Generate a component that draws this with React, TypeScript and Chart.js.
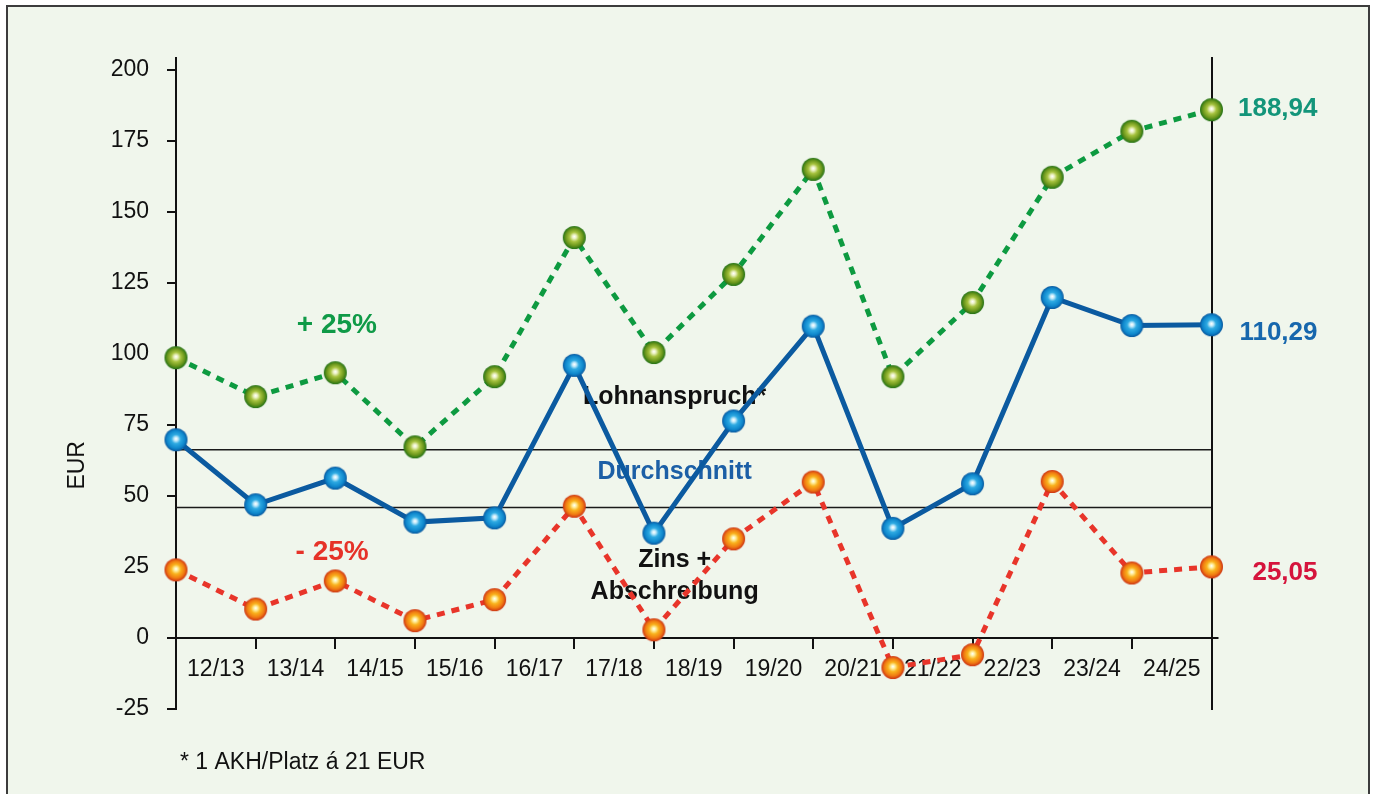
import React, { useEffect, useRef } from 'react';
import { Chart, registerables } from 'chart.js';
Chart.register(...registerables);

// ---- data ----
const seasons = ['12/13', '13/14', '14/15', '15/16', '16/17', '17/18', '18/19', '19/20', '20/21', '21/22', '22/23', '23/24', '24/25'];
const lohnanspruch = [69.8, 46.9, 56.3, 40.8, 42.3, 96.0, 36.9, 76.4, 109.8, 38.6, 54.3, 119.9, 110.0, 110.29];
const plus25 = [98.7, 85.0, 93.4, 67.3, 92.0, 141.0, 100.5, 128.0, 165.0, 92.0, 118.1, 162.2, 178.4, 186.0];
const minus25 = [24.0, 10.2, 20.1, 6.1, 13.5, 46.4, 2.9, 34.9, 54.9, -10.4, -5.9, 55.1, 22.9, 25.05];
const avgLohnanspruch = 66.3;
const avgZinsAbschreibung = 45.9;
const yTickValues = [-25, 0, 25, 50, 75, 100, 125, 150, 175, 200];
const endLabels = ['188,94', '110,29', '25,05'];
const footnote = '* 1 AKH/Platz á 21 EUR';
const yTitle = 'EUR';

const FONT = '"Liberation Sans", Arial, Helvetica, sans-serif';

function sphere(r: number, stops: [number, string][]) {
  const c = document.createElement('canvas');
  const s = Math.ceil(r * 2 + 2);
  c.width = s;
  c.height = s;
  const ctx = c.getContext('2d')!;
  const cx = s / 2, cy = s / 2;
  const g = ctx.createRadialGradient(cx, cy - 1, 0, cx, cy, r);
  stops.forEach(([o, col]) => g.addColorStop(o, col));
  ctx.fillStyle = g;
  ctx.beginPath();
  ctx.arc(cx, cy, r, 0, Math.PI * 2);
  ctx.fill();
  return c;
}

const toXY = (arr: number[]) => arr.map((y, i) => ({ x: i, y }));

export default function App() {
  const ref = useRef<HTMLCanvasElement>(null);
  useEffect(() => {
    const blueBall = sphere(11.5, [[0, '#ffffff'], [0.16, '#c8ecfb'], [0.4, '#2eaae2'], [0.78, '#0e86cc'], [1, '#09589e']]);
    const greenBall = sphere(11.5, [[0, '#ffffff'], [0.16, '#eef3c8'], [0.42, '#a6c23e'], [0.75, '#6a961c'], [1, '#237215']]);
    const orangeBall = sphere(11.5, [[0, '#ffffff'], [0.16, '#fff2a6'], [0.42, '#f9b21c'], [0.75, '#f07a12'], [1, '#cc3412']]);

    const annotations = [
      { text: '+ 25%', x: 2.02, y: 110.0, size: 28, color: '#0f9a47' },
      { text: '- 25%', x: 1.96, y: 30.2, size: 28, color: '#e63228' },
      { text: 'Lohnanspruch*', x: 6.26, y: 84.7, size: 25, color: '#111111' },
      { text: 'Durchschnitt', x: 6.26, y: 58.5, size: 25, color: '#1c5fa6' },
      { text: 'Zins +', x: 6.26, y: 27.4, size: 25, color: '#111111' },
      { text: 'Abschreibung', x: 6.26, y: 16.3, size: 25, color: '#111111' },
    ];
    const endLabelPos = [
      { y: 186.2, color: '#13957a' },
      { y: 107.5, color: '#1767ad' },
      { y: 22.8, color: '#d5143c' },
    ];

    const textPlugin = {
      id: 'texts',
      beforeDatasetsDraw(chart: any) {
        const { ctx, scales } = chart;
        ctx.save();
        ctx.textAlign = 'center';
        ctx.textBaseline = 'middle';
        annotations.forEach(a => {
          ctx.font = `bold ${a.size}px ${FONT}`;
          ctx.fillStyle = a.color;
          ctx.fillText(a.text, scales.x.getPixelForValue(a.x), scales.y.getPixelForValue(a.y));
        });
        ctx.restore();
      },
      afterDraw(chart: any) {
        const { ctx, scales, chartArea } = chart;
        ctx.save();
        ctx.textAlign = 'right';
        ctx.textBaseline = 'middle';
        ctx.font = `bold 26px ${FONT}`;
        endLabels.forEach((t, i) => {
          ctx.fillStyle = endLabelPos[i].color;
          ctx.fillText(t, chartArea.right + 106, scales.y.getPixelForValue(endLabelPos[i].y));
        });
        const y0 = scales.y.getPixelForValue(0);
        ctx.strokeStyle = '#111';
        ctx.lineWidth = 2;
        ctx.beginPath();
        ctx.moveTo(chartArea.right, Math.round(y0));
        ctx.lineTo(chartArea.right + 7, Math.round(y0));
        ctx.stroke();
        ctx.fillStyle = '#111';
        ctx.font = `23px ${FONT}`;
        ctx.textAlign = 'center';
        ctx.translate(chartArea.left - 98, scales.y.getPixelForValue(60.8));
        ctx.rotate(-Math.PI / 2);
        ctx.fillText(yTitle, 0, 0);
        ctx.restore();
        ctx.save();
        ctx.fillStyle = '#111';
        ctx.font = `23px ${FONT}`;
        ctx.textAlign = 'left';
        ctx.textBaseline = 'middle';
        ctx.fillText(footnote, chartArea.left + 4, chartArea.bottom + 54);
        ctx.restore();
      },
    };

    const chart = new Chart(ref.current!, {
      type: 'line',
      data: {
        datasets: [
          {
            label: 'Lohnanspruch',
            data: toXY(lohnanspruch),
            borderColor: '#0b5aa0',
            borderWidth: 5,
            pointStyle: blueBall as any,
            pointRadius: 11,
            pointHoverRadius: 11,
            clip: false as any,
            order: 0,
          },
          {
            label: 'Zins + Abschreibung -25%',
            data: toXY(minus25),
            borderColor: '#e8352a',
            borderWidth: 5,
            borderDash: [8, 7],
            pointStyle: orangeBall as any,
            pointRadius: 11,
            pointHoverRadius: 11,
            clip: false as any,
            order: 1,
          },
          {
            label: '+25%',
            data: toXY(plus25),
            borderColor: '#0d9a40',
            borderWidth: 5,
            borderDash: [8, 7],
            pointStyle: greenBall as any,
            pointRadius: 11,
            pointHoverRadius: 11,
            clip: false as any,
            order: 2,
          },
          {
            label: 'Durchschnitt Lohnanspruch',
            data: [{ x: 0, y: avgLohnanspruch }, { x: seasons.length, y: avgLohnanspruch }],
            borderColor: '#1a1a1a',
            borderWidth: 1.5,
            pointRadius: 0,
            order: 3,
          },
          {
            label: 'Durchschnitt Zins',
            data: [{ x: 0, y: avgZinsAbschreibung }, { x: seasons.length, y: avgZinsAbschreibung }],
            borderColor: '#1a1a1a',
            borderWidth: 1.5,
            pointRadius: 0,
            order: 3,
          },
        ],
      },
      options: {
        animation: false,
        responsive: true,
        maintainAspectRatio: false,
        events: [],
        layout: { padding: { top: 58, bottom: 85, left: 0, right: 0 } },
        plugins: { legend: { display: false }, tooltip: { enabled: false } },
        scales: {
          x: { type: 'linear', display: false, min: 0, max: seasons.length },
          x2: {
            type: 'category',
            labels: seasons,
            position: { y: 0 } as any,
            offset: true,
            grid: { display: true, offset: true, drawOnChartArea: false, drawTicks: true, tickLength: 10, color: '#111', lineWidth: 2 },
            border: { display: true, color: '#111', width: 2 },
            ticks: { font: { family: FONT, size: 23 }, color: '#111', padding: 8, autoSkip: false, maxRotation: 0 },
            afterFit: (s: any) => { s.height = 0; },
          } as any,
          y: {
            type: 'linear',
            position: 'left',
            min: -25,
            max: 204.2,
            afterBuildTicks: (s: any) => { s.ticks = yTickValues.map(v => ({ value: v })); },
            grid: { display: true, drawOnChartArea: false, drawTicks: true, tickLength: 9, color: '#111', lineWidth: 2 },
            border: { display: true, color: '#111', width: 2 },
            ticks: { font: { family: FONT, size: 23 }, color: '#111', padding: 18 },
            afterFit: (s: any) => { s.width = 176; },
          },
          y2: {
            type: 'linear',
            position: 'right',
            min: -25,
            max: 204.2,
            grid: { display: false },
            border: { display: true, color: '#111', width: 2 },
            ticks: { display: false },
            afterFit: (s: any) => { s.width = 164.5; },
          },
        },
      },
      plugins: [textPlugin],
    } as any);
    return () => chart.destroy();
  }, []);

  return (
    <div style={{ position: 'fixed', left: 0, top: 0, width: 1376, height: 794, background: '#ffffff', overflow: 'hidden' }}>
      <div style={{ position: 'absolute', left: 6, top: 5, width: 1360, height: 820, border: '2px solid #3c3c3c', background: '#f0f6ec' }} />
      <div style={{ position: 'absolute', left: 0, top: 0, width: 1376, height: 794 }}>
        <canvas ref={ref} />
      </div>
    </div>
  );
}
